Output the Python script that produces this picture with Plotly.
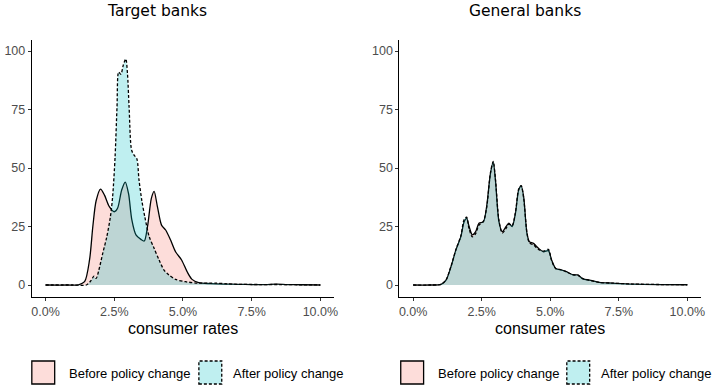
import plotly.graph_objects as go

# ---- density estimates (rate in %, density scaled) ----
# Target banks, before policy change
tb_before_x = [0.0, 0.8, 1.2, 1.42, 1.6, 1.72, 1.84, 2.0, 2.14, 2.32, 2.5, 2.62, 2.77, 2.9, 3.02,
               3.14, 3.29, 3.47, 3.59, 3.71, 3.85, 3.95, 4.07, 4.22, 4.37, 4.55, 4.73, 4.95,
               5.15, 5.33, 5.57, 6.0, 6.5, 7.0, 7.5, 8.0, 8.4, 8.8, 9.3, 10.0]
tb_before_y = [0.0, 0.0, 0.1, 1.4, 10.7, 25.0, 36.0, 41.0, 38.5, 33.5, 31.3, 32.8, 40.6, 44.0, 39.0,
               27.8, 21.4, 19.5, 18.8, 25.0, 37.0, 40.0, 33.5, 25.6, 23.5, 19.2, 14.2, 10.7,
               5.7, 2.4, 1.0, 0.6, 0.4, 0.3, 0.2, 0.2, 0.4, 0.2, 0.1, 0.0]

# Target banks, after policy change
tb_after_x = [0.0, 1.0, 1.5, 1.66, 1.76, 1.84, 1.94, 2.08, 2.23, 2.36, 2.44, 2.53, 2.6, 2.66,
              2.74, 2.83, 2.92, 2.98, 3.04, 3.13, 3.22, 3.32, 3.4, 3.5, 3.61, 3.77, 3.95,
              4.13, 4.31, 4.49, 4.73, 5.09, 5.57, 6.2, 6.6, 7.0, 7.8, 8.5, 9.2, 10.0]
tb_after_y = [0.0, 0.0, 0.1, 2.0, 3.8, 2.8, 6.4, 13.5, 20.7, 29.2, 37.7, 54.8, 76.0, 91.0,
              90.0, 94.0, 96.6, 90.5, 76.0, 57.7, 55.5, 54.0, 44.9, 36.3, 29.2, 20.7, 15.7,
              10.7, 6.4, 4.3, 2.4, 1.4, 0.8, 0.8, 0.5, 0.3, 0.2, 0.2, 0.1, 0.0]

# General banks, before policy change
gb_before_x = [0.0, 0.6, 1.02, 1.2, 1.38, 1.56, 1.74, 1.86, 1.95, 2.04, 2.16, 2.28, 2.4, 2.56,
               2.68, 2.82, 2.92, 3.0, 3.13, 3.25, 3.39, 3.49, 3.61, 3.73, 3.85, 3.94, 4.03,
               4.15, 4.24, 4.39, 4.57, 4.75, 4.93, 5.05, 5.2, 5.41, 5.59, 5.83, 6.01, 6.19,
               6.43, 6.79, 7.27, 8.0, 9.0, 10.0]
gb_before_y = [0.0, 0.0, 0.3, 2.1, 7.8, 15.0, 20.7, 27.0, 28.5, 25.0, 21.4, 22.8, 26.4, 27.0,
               33.5, 47.7, 52.4, 44.9, 27.0, 22.8, 25.0, 26.4, 25.0, 30.6, 40.6, 42.3, 37.7,
               22.0, 18.5, 17.8, 15.7, 14.2, 14.7, 10.7, 7.1, 6.4, 5.7, 4.3, 4.3, 2.6,
               2.1, 1.1, 0.8, 0.4, 0.2, 0.1]

# General banks, after policy change
gb_after_x = [0.0, 0.6, 1.02, 1.2, 1.38, 1.56, 1.74, 1.86, 1.95, 2.04, 2.16, 2.28, 2.4, 2.56,
              2.68, 2.82, 2.92, 3.0, 3.13, 3.25, 3.39, 3.49, 3.61, 3.73, 3.85, 3.94, 4.03,
              4.15, 4.24, 4.39, 4.57, 4.75, 4.93, 5.05, 5.2, 5.41, 5.59, 5.83, 6.01, 6.19,
              6.43, 6.79, 7.27, 8.0, 9.0, 10.0]
gb_after_y = [0.0, 0.0, 0.3, 2.2, 8.0, 15.2, 21.0, 28.0, 29.0, 24.0, 20.6, 22.0, 25.6, 27.2,
              33.0, 48.0, 52.8, 45.5, 27.5, 22.2, 24.2, 26.0, 25.4, 31.0, 41.0, 42.5, 37.2,
              22.5, 18.0, 17.2, 15.2, 14.5, 15.2, 10.4, 7.0, 6.5, 5.6, 4.4, 4.1, 2.7,
              2.0, 1.1, 0.8, 0.4, 0.2, 0.1]

panel_titles = ["Target banks", "General banks"]
x_title = "consumer rates"
x_tickvals = [0, 2.5, 5, 7.5, 10]
x_ticktext = ["0.0%", "2.5%", "5.0%", "7.5%", "10.0%"]
y_tickvals = [0, 25, 50, 75, 100]
legend_labels = ["Before policy change", "After policy change"]

W, H = 713, 387
BEFORE_FILL = "rgba(248,118,109,0.25)"
AFTER_FILL = "rgba(0,191,196,0.25)"

fig = go.Figure()

panels = [
    ("x", "y", tb_before_x, tb_before_y, tb_after_x, tb_after_y),
    ("x2", "y2", gb_before_x, gb_before_y, gb_after_x, gb_after_y),
]
for xa, ya, bx, by, ax_, ay in panels:
    fig.add_trace(go.Scatter(
        x=bx, y=by, xaxis=xa, yaxis=ya, mode="lines", fill="tozeroy",
        fillcolor=BEFORE_FILL, line=dict(color="black", width=1.3, shape="spline", smoothing=0.8),
        showlegend=False, hoverinfo="skip"))
    fig.add_trace(go.Scatter(
        x=ax_, y=ay, xaxis=xa, yaxis=ya, mode="lines", fill="tozeroy",
        fillcolor=AFTER_FILL, line=dict(color="black", width=1.3, dash="3px,2px",
                                        shape="spline", smoothing=0.8),
        showlegend=False, hoverinfo="skip"))

def px_x(p):
    return p / W

def px_y(p):
    return 1 - p / H

y_dom = [px_y(296.7), px_y(40)]
axis_common = dict(
    showline=True, linecolor="black", linewidth=1.1, ticks="outside", ticklen=3,
    tickwidth=1, tickcolor="#333333", showgrid=False, zeroline=False,
    tickfont=dict(family="Liberation Sans, Arial, sans-serif", size=12.5, color="#4d4d4d"),
)
fig.update_layout(
    width=W, height=H, margin=dict(l=0, r=0, t=0, b=0),
    paper_bgcolor="white", plot_bgcolor="white", showlegend=False,
    xaxis=dict(domain=[px_x(32), px_x(336)], range=[-0.5, 10.5], anchor="y",
               tickvals=x_tickvals, ticktext=x_ticktext, **axis_common),
    yaxis=dict(domain=y_dom, range=[-5, 104.7], anchor="x", tickvals=y_tickvals, **axis_common),
    xaxis2=dict(domain=[px_x(401.7), px_x(705)], range=[-0.5, 10.5], anchor="y2",
                tickvals=x_tickvals, ticktext=x_ticktext, **axis_common),
    yaxis2=dict(domain=y_dom, range=[-5, 104.7], anchor="x2", tickvals=y_tickvals, **axis_common),
)

title_font = dict(family="DejaVu Sans, sans-serif", size=15.5, color="black")
label_font = dict(family="Liberation Sans, Arial, sans-serif", size=16, color="black")
legend_font = dict(family="Liberation Sans, Arial, sans-serif", size=13, color="black")

annotations = []
shapes = []
for i, (title_cx, axis_cx, key1, key2) in enumerate([
    (158, 184.3, 32, 200),
    (528, 553.3, 403, 570),
]):
    annotations.append(dict(text=panel_titles[i], x=px_x(title_cx), y=px_y(10.5),
                            xref="paper", yref="paper", xanchor="center", yanchor="middle",
                            showarrow=False, font=title_font))
    annotations.append(dict(text=x_title, x=px_x(axis_cx), y=px_y(328),
                            xref="paper", yref="paper", xanchor="center", yanchor="middle",
                            showarrow=False, font=label_font))
    # legend keys
    shapes.append(dict(type="rect", xref="paper", yref="paper",
                       x0=px_x(key1), x1=px_x(key1 + 23), y0=px_y(384), y1=px_y(361),
                       fillcolor=BEFORE_FILL, line=dict(color="black", width=1.3)))
    shapes.append(dict(type="rect", xref="paper", yref="paper",
                       x0=px_x(key2), x1=px_x(key2 + 23), y0=px_y(384), y1=px_y(361),
                       fillcolor=AFTER_FILL, line=dict(color="black", width=1.3, dash="3px,2px")))
    annotations.append(dict(text=legend_labels[0], x=px_x(key1 + 35), y=px_y(373),
                            xref="paper", yref="paper", xanchor="left", yanchor="middle",
                            showarrow=False, font=legend_font))
    annotations.append(dict(text=legend_labels[1], x=px_x(key2 + 32), y=px_y(373),
                            xref="paper", yref="paper", xanchor="left", yanchor="middle",
                            showarrow=False, font=legend_font))

fig.update_layout(annotations=annotations, shapes=shapes)
fig.write_html("out.html")
